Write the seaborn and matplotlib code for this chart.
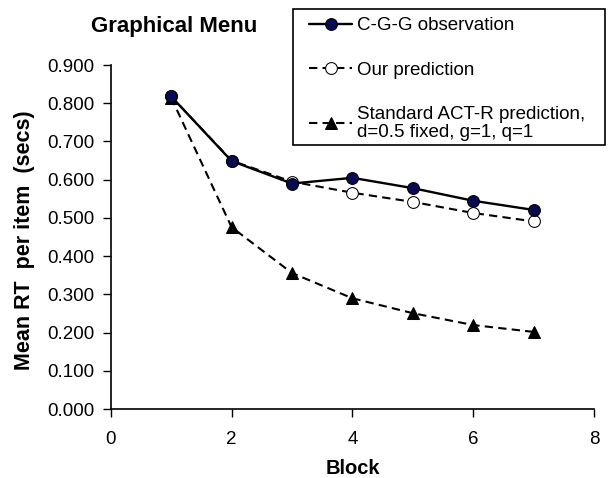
import matplotlib
matplotlib.use("Agg")
import matplotlib.pyplot as plt
import seaborn as sns
from matplotlib.patches import Rectangle
from matplotlib.ticker import FormatStrFormatter

# values
blocks = [1, 2, 3, 4, 5, 6, 7]
cgg_obs = [0.818, 0.649, 0.590, 0.605, 0.578, 0.545, 0.521]
our_pred = [0.818, 0.650, 0.595, 0.566, 0.542, 0.513, 0.491]
actr_pred = [0.815, 0.476, 0.356, 0.290, 0.251, 0.220, 0.202]

sns.set_style("ticks")
plt.rcParams['font.family'] = ['Liberation Sans', 'DejaVu Sans']
plt.rcParams.update({"text.color": "black", "axes.labelcolor": "black",
                     "xtick.color": "black", "ytick.color": "black"})

fig = plt.figure(figsize=(6.15, 4.78), dpi=100)
ax = fig.add_axes([0.18, 0.144, 0.786, 0.72])

dash = (0, (4, 2.5))
sns.lineplot(x=blocks, y=cgg_obs, ax=ax, color="black", linewidth=1.7,
             marker="o", markersize=8.5, markerfacecolor="#0a0a50",
             markeredgecolor="black", zorder=4, label="C-G-G observation")
sns.lineplot(x=blocks, y=our_pred, ax=ax, color="black", linewidth=1.5,
             linestyle=dash, marker="o", markersize=8.5,
             markerfacecolor="white", markeredgecolor="black", zorder=3,
             label="Our prediction")
sns.lineplot(x=blocks, y=actr_pred, ax=ax, color="black", linewidth=1.5,
             linestyle=dash, marker="^", markersize=8.5,
             markerfacecolor="black", markeredgecolor="black", zorder=2,
             label="Standard ACT-R prediction,\nd=0.5 fixed, g=1, q=1")

ax.set_xlim(0, 8)
ax.set_ylim(0, 0.9)
ax.set_xticks([0, 2, 4, 6, 8])
ax.set_yticks([i / 10 for i in range(10)])
ax.yaxis.set_major_formatter(FormatStrFormatter("%.3f"))
ax.tick_params(labelsize=13.5, direction="out", length=5.5, color="black", width=1)
ax.tick_params(axis="y", pad=6)
ax.tick_params(axis="x", pad=10)
for s in ["left", "bottom"]:
    ax.spines[s].set_color("black")
    ax.spines[s].set_linewidth(1.2)
sns.despine(ax=ax)

ax.set_xlabel("Block", fontsize=14.5, fontweight="bold", va="center")
ax.set_ylabel("Mean RT  per item  (secs)", fontsize=15.5, fontweight="bold", va="center")
ax.xaxis.set_label_coords(0.5, -0.1715)
ax.yaxis.set_label_coords(-0.178, 0.49)
fig.text(0.283, 0.945, "Graphical Menu", fontsize=16, fontweight="bold",
         ha="center", va="center")

# legend box drawn separately so the padding matches the original
fig.patches.append(Rectangle((293 / 615, 1 - 145 / 478), 312 / 615, 136 / 478,
                             transform=fig.transFigure, facecolor="white",
                             edgecolor="black", linewidth=1.2, zorder=5))
ax.get_legend().remove()
handles, labels = ax.get_legend_handles_labels()
leg = fig.legend(handles, labels, loc="upper left",
                 bbox_to_anchor=(309 / 615, 1 - 17 / 478),
                 fontsize=13.5, frameon=False, labelspacing=1.46,
                 handlelength=2.3, handletextpad=0.27, borderpad=0,
                 borderaxespad=0)
leg.set_zorder(6)
for t in leg.get_texts():
    t.set_linespacing(1.05)

fig.savefig("out.png", dpi=100)
